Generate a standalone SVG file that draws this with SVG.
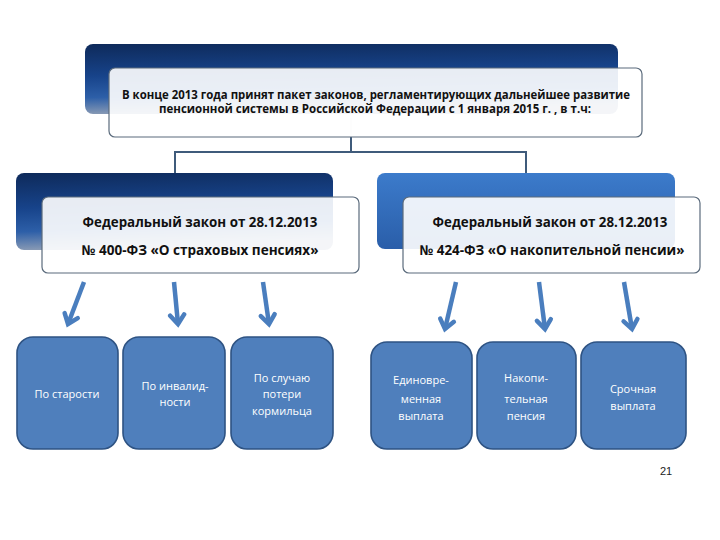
<svg xmlns="http://www.w3.org/2000/svg" width="720" height="540" viewBox="0 0 720 540">
<defs>
<linearGradient id="gDark" x1="0" y1="0" x2="0.15" y2="1">
<stop offset="0" stop-color="#0e2a5a"/>
<stop offset="0.45" stop-color="#17438a"/>
<stop offset="0.75" stop-color="#2d5fa8"/>
<stop offset="1" stop-color="#8d9db5"/>
</linearGradient>
<linearGradient id="gBlue" x1="0" y1="0" x2="0" y2="1">
<stop offset="0" stop-color="#3c7bcb"/>
<stop offset="1" stop-color="#2a5ea9"/>
</linearGradient>
<marker id="ah" markerUnits="userSpaceOnUse" markerWidth="20" markerHeight="20" viewBox="-12 -10 14 20" refX="0" refY="0" orient="auto">
<path d="M-9,-7 L0,0 L-9,7" fill="none" stroke="#4a7ebe" stroke-width="4.5" stroke-linejoin="miter" stroke-linecap="round"/>
</marker>
<style>
.dk{fill:url(#gDark)}
.bl{fill:url(#gBlue)}
.wb{fill:#ffffff;fill-opacity:0.9;stroke:#5b6b7c;stroke-width:1.2}
.hd{font-family:"Open Sans","Liberation Sans",sans-serif;font-weight:bold;fill:#111111;text-anchor:middle}
.bx{fill:#4f7fbc;stroke:#2e5383;stroke-width:1.6}
.bt{font-family:"Open Sans","Liberation Sans",sans-serif;font-size:11px;fill:#ffffff;text-anchor:middle}
.cn{fill:none;stroke:#3f5b7b;stroke-width:2}
.ar{fill:none;stroke:#4a7ebe;stroke-width:4.5;marker-end:url(#ah)}
</style>
</defs>
<rect width="720" height="540" fill="#ffffff"/>

<g id="connectors">
<line x1="351" y1="118" x2="351" y2="137" stroke="#c8ced6" stroke-width="1"/>
<path class="cn" d="M351,137 V152 M175,152 H526 M175,151 V173 M526,151 V173"/>
<line class="ar" x1="84" y1="282" x2="68" y2="324"/>
<line class="ar" x1="174" y1="282" x2="178" y2="324"/>
<line class="ar" x1="263" y1="282" x2="269" y2="324"/>
<line class="ar" x1="456" y1="282" x2="445" y2="329"/>
<line class="ar" x1="539" y1="282" x2="545" y2="329"/>
<line class="ar" x1="624" y1="282" x2="632" y2="329"/>
</g>

<g id="top">
<rect class="dk" x="85" y="44" width="533" height="70" rx="8"/>
<rect class="wb" x="109" y="68" width="533" height="69" rx="6"/>
<text class="hd" font-size="11.5" x="376" y="99" textLength="508" lengthAdjust="spacingAndGlyphs">В конце 2013 года принят пакет законов, регламентирующих дальнейшее развитие</text>
<text class="hd" font-size="11.5" x="375" y="113" textLength="432" lengthAdjust="spacingAndGlyphs">пенсионной системы в Российской Федерации с 1 января 2015 г. , в т.ч:</text>
</g>

<g id="law400">
<rect class="dk" x="16" y="173" width="317" height="77" rx="8"/>
<rect class="wb" x="42" y="197" width="317" height="76" rx="6"/>
<text class="hd" font-size="13.5" x="200" y="227" textLength="235" lengthAdjust="spacingAndGlyphs">Федеральный закон от 28.12.2013</text>
<text class="hd" font-size="13.5" x="200" y="255" textLength="237" lengthAdjust="spacingAndGlyphs">№ 400-ФЗ «О страховых пенсиях»</text>
</g>

<g id="law424">
<rect class="bl" x="377" y="173" width="298" height="76" rx="8"/>
<rect class="wb" x="403" y="197" width="297" height="76" rx="6"/>
<text class="hd" font-size="13.5" x="550" y="227" textLength="235" lengthAdjust="spacingAndGlyphs">Федеральный закон от 28.12.2013</text>
<text class="hd" font-size="13.5" x="552" y="255" textLength="265" lengthAdjust="spacingAndGlyphs">№ 424-ФЗ «О накопительной пенсии»</text>
</g>

<g id="b1">
<rect class="bx" x="17" y="337" width="101" height="112" rx="16"/>
<text class="bt" x="67" y="398">По старости</text>
</g>
<g id="b2">
<rect class="bx" x="123" y="337" width="102" height="112" rx="16"/>
<text class="bt" x="175" y="390">По инвалид-</text>
<text class="bt" x="175" y="406">ности</text>
</g>
<g id="b3">
<rect class="bx" x="231" y="337" width="102" height="112" rx="16"/>
<text class="bt" x="282" y="382">По случаю</text>
<text class="bt" x="282" y="398">потери</text>
<text class="bt" x="282" y="415">кормильца</text>
</g>
<g id="b4">
<rect class="bx" x="371" y="342" width="101" height="107" rx="16"/>
<text class="bt" x="421" y="384">Единовре-</text>
<text class="bt" x="421" y="403">менная</text>
<text class="bt" x="421" y="420">выплата</text>
</g>
<g id="b5">
<rect class="bx" x="477" y="342" width="99" height="107" rx="16"/>
<text class="bt" x="526" y="382">Накопи-</text>
<text class="bt" x="526" y="403">тельная</text>
<text class="bt" x="526" y="420">пенсия</text>
</g>
<g id="b6">
<rect class="bx" x="581" y="342" width="105" height="107" rx="16"/>
<text class="bt" x="633" y="393">Срочная</text>
<text class="bt" x="633" y="410">выплата</text>
</g>

<text x="666" y="475" font-family="Liberation Sans, sans-serif" font-size="11" fill="#222222" text-anchor="middle">21</text>
</svg>
